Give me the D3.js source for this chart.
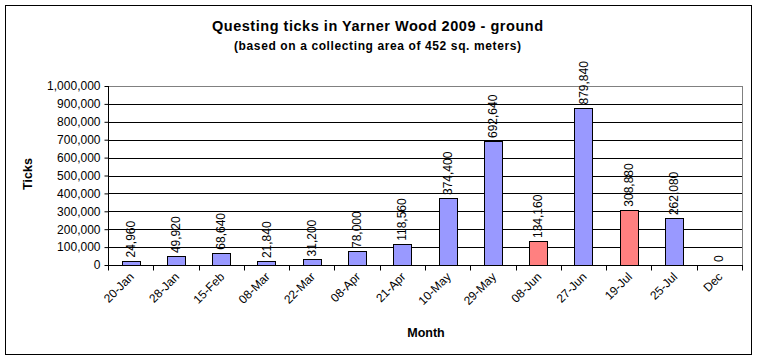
<!DOCTYPE html>
<html><head><meta charset="utf-8">
<script src="https://cdn.jsdelivr.net/npm/d3@7"></script>
<style>body{margin:0;background:#fff}svg{display:block;font-family:Arial,"Liberation Sans",sans-serif}</style>
</head><body>
<script>
const categories = ["20-Jan","28-Jan","15-Feb","08-Mar","22-Mar","08-Apr","21-Apr","10-May","29-May","08-Jun","27-Jun","19-Jul","25-Jul","Dec"];
const values = [24960,49920,68640,21840,31200,78000,118560,374400,692640,134160,879840,308880,262080,0];
const highlighted = ["08-Jun","19-Jul"];
const yTicks = [0,100000,200000,300000,400000,500000,600000,700000,800000,900000,1000000];

const W=757,H=360;
const m={l:108,r:15,t:86,b:95};
const svg=d3.select("body").append("svg").attr("width",W).attr("height",H);
svg.append("rect").attr("x",5.5).attr("y",5.5).attr("width",746).attr("height",349).attr("fill","#fff").attr("stroke","#000").attr("stroke-width",1);

const x=d3.scaleBand().domain(categories).range([m.l,W-m.r]).paddingInner(0.6).paddingOuter(0.3);
const y=d3.scaleLinear().domain([0,1000000]).range([H-m.b,m.t]);
const fmt=d3.format(",");

// plot border
svg.append("rect").attr("x",m.l+0.5).attr("y",m.t+0.5).attr("width",W-m.r-m.l).attr("height",H-m.b-m.t).attr("fill","#fff").attr("stroke","#808080");
// gridlines
svg.append("g").selectAll("line").data(yTicks.filter(d=>d>0&&d<1000000)).join("line")
 .attr("x1",m.l).attr("x2",W-m.r).attr("y1",d=>Math.round(y(d))+0.5).attr("y2",d=>Math.round(y(d))+0.5).attr("stroke","#000");

// bars
svg.append("g").selectAll("rect").data(categories).join("rect")
 .attr("x",d=>Math.round(x(d))+0.5).attr("width",Math.round(x.bandwidth()))
 .attr("y",(d,i)=>Math.round(y(values[i]))+0.5).attr("height",(d,i)=>Math.round(y(0))-Math.round(y(values[i])))
 .attr("fill",d=>highlighted.includes(d)?"#FF8080":"#9999FF").attr("stroke","#000").attr("stroke-width",1);

// value labels
svg.append("g").selectAll("text").data(categories).join("text")
 .attr("transform",(d,i)=>`translate(${x(d)+x.bandwidth()/2+4},${y(values[i])-3}) rotate(-90)`)
 .attr("font-size",12).text((d,i)=>fmt(values[i]));

// y axis
const ya=svg.append("g").attr("transform",`translate(${m.l+0.5},0)`)
 .call(d3.axisLeft(y).tickValues(yTicks).tickFormat(fmt).tickSize(4).tickPadding(4));
ya.select(".domain").remove();
ya.append("line").attr("y1",m.t).attr("y2",H-m.b+0.5).attr("stroke","#000");
ya.selectAll("text").attr("font-size",12).attr("fill","#000").attr("font-family","Arial,'Liberation Sans',sans-serif");
ya.selectAll(".tick line").attr("stroke","#000");

// x axis
const xs=d3.scaleLinear().domain([0,categories.length]).range([m.l,W-m.r]);
const xa=svg.append("g").attr("transform",`translate(0,${Math.round(y(0))+0.5})`);
xa.append("line").attr("x1",m.l).attr("x2",W-m.r+1).attr("stroke","#000");
xa.selectAll(".tk").data(d3.range(categories.length+1)).join("line").attr("class","tk")
 .attr("x1",i=>Math.round(xs(i))+0.5).attr("x2",i=>Math.round(xs(i))+0.5).attr("y1",0).attr("y2",5).attr("stroke","#000");
xa.selectAll("text").data(categories).join("text")
 .attr("transform",d=>`translate(${x(d)+x.bandwidth()/2+4},12) rotate(-45)`)
 .attr("text-anchor","end").attr("font-size",12).text(d=>d);

// titles
svg.append("text").attr("x",377.5).attr("y",31).attr("text-anchor","middle").attr("font-size",14.5).attr("font-weight","bold")
 .attr("textLength",331).attr("lengthAdjust","spacing").text("Questing ticks in Yarner Wood 2009 - ground");
svg.append("text").attr("x",377.5).attr("y",50).attr("text-anchor","middle").attr("font-size",12).attr("font-weight","bold")
 .attr("textLength",287).attr("lengthAdjust","spacing").text("(based on a collecting area of 452 sq. meters)");
svg.append("text").attr("transform",`translate(32,174) rotate(-90)`).attr("text-anchor","middle").attr("font-size",12.5).attr("font-weight","bold").text("Ticks");
svg.append("text").attr("x",426).attr("y",337).attr("text-anchor","middle").attr("font-size",12.5).attr("font-weight","bold").text("Month");
</script>
</body></html>
